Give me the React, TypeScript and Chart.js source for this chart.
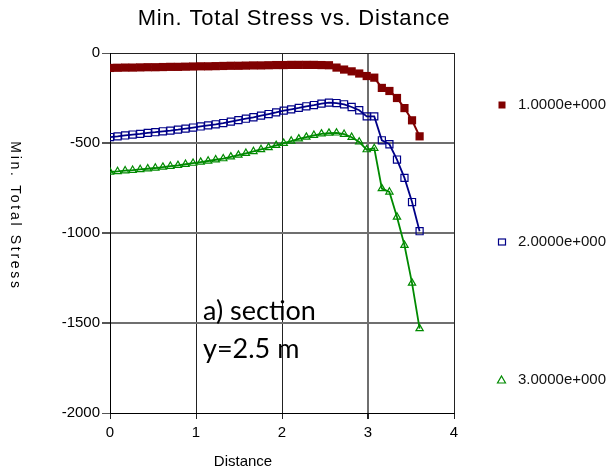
import React, { useEffect, useRef } from 'react';
import { Chart, registerables } from 'chart.js';

Chart.register(...registerables);

const distance = [
  0, 0.088, 0.176, 0.263, 0.351, 0.439, 0.527, 0.615, 0.702, 0.79, 0.878, 0.966, 1.054, 1.141,
  1.229, 1.317, 1.405, 1.493, 1.58, 1.668, 1.756, 1.844, 1.932, 2.02, 2.107, 2.195, 2.283, 2.371,
  2.459, 2.546, 2.634, 2.722, 2.81, 2.898, 2.985, 3.073, 3.161, 3.249, 3.337, 3.424, 3.512, 3.6,
];

const series1 = [
  -83, -82, -81, -81, -80, -79, -79, -78, -77, -77, -76, -75, -74, -74, -73, -72, -71, -71, -70,
  -69, -69, -68, -67, -67, -66, -66, -66, -66, -67, -68, -81, -92, -102, -114, -128, -137, -194,
  -211, -250, -306, -374, -463,
];

const series2 = [
  -467, -463, -458, -453, -449, -444, -440, -435, -431, -426, -420, -414, -408, -402, -396, -389,
  -381, -373, -365, -357, -348, -339, -330, -320, -313, -305, -296, -289, -281, -276, -278, -285,
  -300, -318, -352, -352, -485, -507, -592, -694, -828, -990,
];

const series3 = [
  -661, -658, -654, -651, -647, -643, -639, -634, -629, -624, -618, -612, -606, -600, -593, -587,
  -577, -567, -557, -547, -536, -525, -513, -501, -489, -477, -467, -457, -449, -445, -444, -451,
  -468, -494, -537, -530, -753, -772, -911, -1068, -1278, -1531,
];

const seriesLabels = ['1.0000e+000', '2.0000e+000', '3.0000e+000'];
const xTicks = [0, 1, 2, 3, 4];
const yTicks = [0, -500, -1000, -1500, -2000];

const titleText = 'Min. Total Stress vs. Distance';
const xTitle = 'Distance';
const yTitle = 'Min. Total Stress';
const noteLines = ['a) section', 'y=2.5 m'];

const RED = '#800000';
const BLUE = '#000088';
const GREEN = '#008a00';
const ARIAL = '"Liberation Sans", Arial, sans-serif';

export default function App() {
  const ref = useRef<HTMLCanvasElement>(null);

  useEffect(() => {
    const canvas = ref.current;
    if (!canvas) return;
    const toXY = (ys: number[]) => ys.map((y, i) => ({ x: distance[i], y }));

    const overlay = {
      id: 'overlay',
      afterDraw(chart: any) {
        const ctx = chart.ctx as CanvasRenderingContext2D;
        ctx.save();
        ctx.fillStyle = '#000';
        // title
        ctx.font = `22px ${ARIAL}`;
        (ctx as any).letterSpacing = '0.8px';
        ctx.textAlign = 'center';
        ctx.textBaseline = 'alphabetic';
        ctx.fillText(titleText, 294, 25);
        // x title
        (ctx as any).letterSpacing = '0px';
        ctx.font = `15px ${ARIAL}`;
        ctx.fillText(xTitle, 243, 466);
        // y title
        ctx.save();
        ctx.translate(15, 216);
        ctx.rotate(Math.PI / 2);
        ctx.font = `14px ${ARIAL}`;
        (ctx as any).letterSpacing = '2.7px';
        ctx.textAlign = 'center';
        ctx.textBaseline = 'middle';
        ctx.fillText(yTitle, 0, 0);
        ctx.restore();
        // note
        (ctx as any).letterSpacing = '0px';
        ctx.font = `27px Lato, "Open Sans", sans-serif`;
        ctx.textAlign = 'left';
        ctx.textBaseline = 'alphabetic';
        ctx.fillText(noteLines[0], 203, 320);
        ctx.fillText(noteLines[1], 203, 358);
        // legend
        const ly = [105, 242, 380];
        ctx.font = `15px ${ARIAL}`;
        ctx.textBaseline = 'middle';
        ctx.fillStyle = '#111';
        seriesLabels.forEach((t, i) => ctx.fillText(t, 518, ly[i]));
        ctx.fillStyle = RED;
        ctx.fillRect(498.5, ly[0] - 3.5, 7, 7);
        ctx.strokeStyle = BLUE;
        ctx.lineWidth = 1.2;
        ctx.strokeRect(498.5, ly[1] - 3, 7, 6);
        ctx.strokeStyle = GREEN;
        ctx.beginPath();
        ctx.moveTo(501.5, ly[2] - 4);
        ctx.lineTo(505.5, ly[2] + 3);
        ctx.lineTo(497.5, ly[2] + 3);
        ctx.closePath();
        ctx.stroke();
        ctx.restore();
      },
    };

    const chart = new Chart(canvas, {
      type: 'scatter',
      data: {
        datasets: [
          {
            label: seriesLabels[0],
            data: toXY(series1),
            showLine: true,
            borderColor: RED,
            backgroundColor: RED,
            borderWidth: 2,
            pointStyle: 'rect',
            pointRadius: 5.8,
            pointBorderWidth: 0,
            pointBackgroundColor: RED,
          },
          {
            label: seriesLabels[1],
            data: toXY(series2),
            showLine: true,
            borderColor: BLUE,
            backgroundColor: 'rgba(0,0,0,0)',
            borderWidth: 1.8,
            pointStyle: 'rect',
            pointRadius: 5,
            pointBorderWidth: 1.2,
            pointBorderColor: BLUE,
            pointBackgroundColor: 'rgba(0,0,0,0)',
          },
          {
            label: seriesLabels[2],
            data: toXY(series3),
            showLine: true,
            borderColor: GREEN,
            backgroundColor: 'rgba(0,0,0,0)',
            borderWidth: 1.8,
            pointStyle: 'triangle',
            pointRadius: 4.2,
            pointBorderWidth: 1.2,
            pointBorderColor: GREEN,
            pointBackgroundColor: 'rgba(0,0,0,0)',
          },
        ],
      },
      options: {
        responsive: false,
        animation: false,
        devicePixelRatio: 1,
        layout: { padding: { top: 53, right: 156, left: 0, bottom: 0 } },
        plugins: {
          legend: { display: false },
          title: { display: false },
          tooltip: { enabled: false },
        },
        scales: {
          x: {
            type: 'linear',
            min: 0,
            max: 4,
            afterBuildTicks: (s: any) => {
              s.ticks = xTicks.map((v) => ({ value: v }));
            },
            afterFit: (s: any) => {
              s.height = 56;
            },
            grid: {
              color: (c: any) => (c.tick && c.tick.value === 3 ? '#6f6f6f' : '#222'),
              lineWidth: (c: any) => (c.tick && c.tick.value === 3 ? 2 : 1),
              tickColor: '#222',
              tickLength: 6,
            },
            border: { color: '#000', width: 1 },
            ticks: {
              color: '#000',
              font: { family: ARIAL, size: 15 },
              padding: 5,
              maxRotation: 0,
              callback: (v: any) => String(v),
            },
          },
          y: {
            type: 'linear',
            min: -2000,
            max: 0,
            afterBuildTicks: (s: any) => {
              s.ticks = yTicks.map((v) => ({ value: v }));
            },
            afterFit: (s: any) => {
              s.width = 110;
            },
            grid: {
              color: (c: any) =>
                c.tick && (c.tick.value === 0 || c.tick.value === -2000) ? '#222' : '#6f6f6f',
              lineWidth: (c: any) =>
                c.tick && (c.tick.value === 0 || c.tick.value === -2000) ? 1 : 2,
              tickColor: '#555',
              tickLength: 8,
            },
            border: { color: '#000', width: 1 },
            ticks: {
              color: '#000',
              font: { family: ARIAL, size: 15 },
              padding: 2,
              callback: (v: any) => String(v),
            },
          },
        },
      },
      plugins: [overlay],
    });

    return () => chart.destroy();
  }, []);

  return (
    <div
      style={{ position: 'absolute', left: 0, top: 0, width: 610, height: 469, background: '#fff' }}
    >
      <canvas ref={ref} width={610} height={469} style={{ width: 610, height: 469, display: 'block' }} />
    </div>
  );
}
